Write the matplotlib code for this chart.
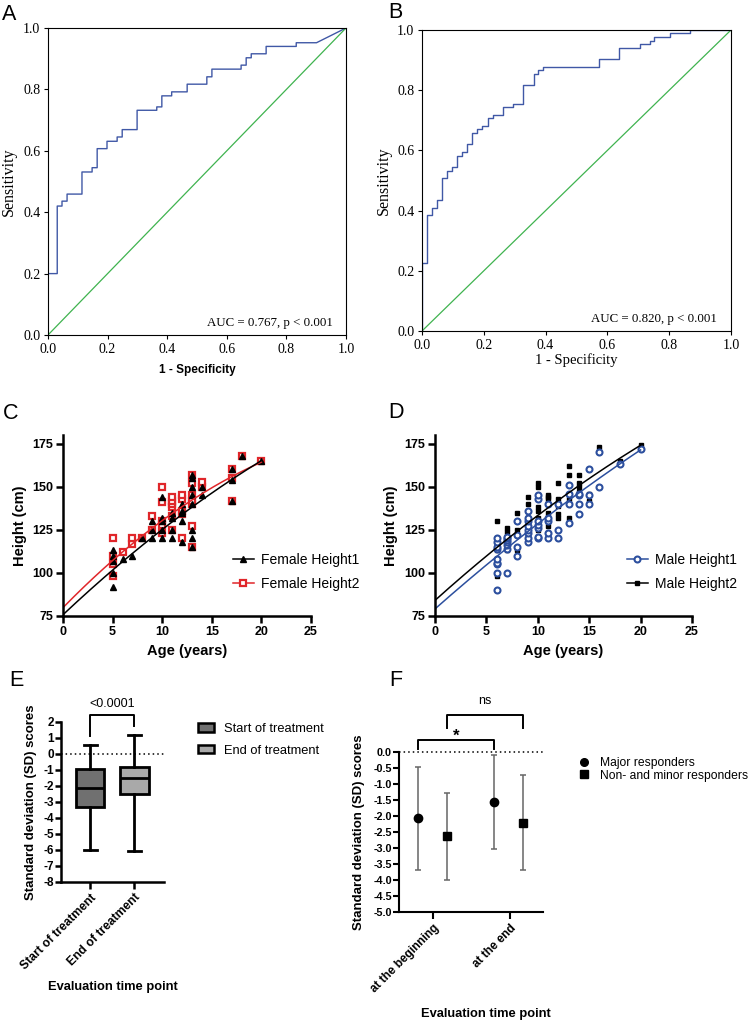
import numpy as np
import matplotlib
matplotlib.use("Agg")
import matplotlib.pyplot as plt
from matplotlib.patches import Patch
from matplotlib.lines import Line2D

SERIF = ["Liberation Serif", "DejaVu Serif"]
SANS = ["Liberation Sans", "DejaVu Sans"]
plt.rcParams["font.family"] = SANS
plt.rcParams["axes.unicode_minus"] = False

# ---------------- data ----------------
# Panel A: ROC operating points (false positive rate, sensitivity)
roc_a_fpr = [0.0, 0.031, 0.047, 0.064, 0.114, 0.148, 0.165, 0.198, 0.232, 0.249, 0.299, 0.365,
             0.382, 0.415, 0.467, 0.533, 0.550, 0.648, 0.665, 0.682, 0.732, 0.833, 0.901, 1.0]
roc_a_tpr = [0.200, 0.420, 0.436, 0.459, 0.531, 0.545, 0.607, 0.631, 0.645, 0.669, 0.732, 0.743,
             0.779, 0.792, 0.817, 0.841, 0.866, 0.879, 0.903, 0.916, 0.940, 0.952, 0.952, 1.0]
auc_a_text = "AUC = 0.767, p < 0.001"

# Panel B
roc_b_fpr = [0.0, 0.016, 0.032, 0.049, 0.065, 0.081, 0.097, 0.113, 0.130, 0.147, 0.163, 0.179,
             0.195, 0.214, 0.230, 0.262, 0.295, 0.328, 0.361, 0.377, 0.393, 0.573, 0.639, 0.704,
             0.737, 0.751, 0.802, 0.867, 1.0]
roc_b_tpr = [0.225, 0.384, 0.410, 0.435, 0.507, 0.533, 0.546, 0.582, 0.596, 0.620, 0.657, 0.670,
             0.681, 0.707, 0.718, 0.743, 0.755, 0.817, 0.854, 0.867, 0.878, 0.903, 0.939, 0.953,
             0.965, 0.978, 0.991, 1.0, 1.0]
auc_b_text = "AUC = 0.820, p < 0.001"
roc_ticks = [0.0, 0.2, 0.4, 0.6, 0.8, 1.0]

# Panel C: female heights by age
female_ages = [5, 6, 7, 8, 9, 10, 11, 12, 13, 14, 17, 18, 20]
female_height1 = [[92, 100, 107, 110, 113], [108], [110], [120], [120, 125, 130],
                  [120, 125, 130, 132, 144], [120, 125, 132, 135], [118, 130, 135, 136, 140],
                  [115, 120, 125, 140, 145, 150, 155, 157], [145, 150], [142, 154, 160], [168], [165]]
female_height2 = [[98, 105, 110, 120], [112], [117, 120], [120], [125, 133],
                  [123, 128, 130, 141, 150], [125, 133, 138, 140, 142, 144], [120, 134, 136, 143, 145],
                  [115, 127, 140, 142, 145, 152, 157], [150, 153], [142, 155, 160], [168], [165]]
# fitted growth curves
fit_ages = [0, 5, 10, 15, 20]
female_fit1 = [76.0, 101.0, 125.5, 146.5, 165.0]
female_fit2 = [80.0, 107.0, 130.0, 150.0, 164.0]

# Panel D: male heights by age
male_ages = [6, 7, 8, 9, 10, 11, 12, 13, 14, 15, 16, 18, 20]
male_height1 = [[90, 100, 105, 106, 108, 114, 115, 118, 120], [100, 114, 116, 118, 119, 120, 121],
                [110, 115, 122, 130], [118, 120, 123, 125, 127, 130, 132, 136],
                [120, 121, 126, 128, 130, 143, 145], [120, 123, 130, 132, 140], [120, 125, 140],
                [129, 140, 146, 151], [134, 140, 145, 146], [140, 145, 160], [150, 170], [163], [172]]
male_height2 = [[98, 113, 116, 120, 130], [113, 116, 119, 121, 124, 126], [113, 125, 135],
                [125, 129, 132, 140, 144], [125, 127, 132, 136, 138, 150, 152],
                [127, 131, 135, 140, 143, 144, 145], [132, 134, 139, 143, 152],
                [132, 143, 157, 162], [147, 150, 152, 157], [142, 146], [173], [165], [174]]
male_fit1 = [79.0, 105.0, 128.0, 151.0, 171.3]
male_fit2 = [84.0, 110.0, 133.0, 155.0, 174.0]
height_ticks = [75, 100, 125, 150, 175]
age_ticks = [0, 5, 10, 15, 20, 25]

# Panel E: box plot summary
e_labels = ["Start of treatment", "End of treatment"]
e_whislo = [-6.0, -6.05]
e_q1 = [-3.32, -2.49]
e_med = [-2.15, -1.47]
e_q3 = [-0.92, -0.84]
e_whishi = [0.56, 1.21]
e_pvalue = "<0.0001"
e_ticks = [-8, -7, -6, -5, -4, -3, -2, -1, 0, 1, 2]

# Panel F: mean with range
f_timepoints = ["at the beginning", "at the end"]
f_major_mean = [-2.07, -1.57]
f_major_upper = [-0.47, -0.10]
f_major_lower = [-3.69, -3.03]
f_minor_mean = [-2.64, -2.22]
f_minor_upper = [-1.28, -0.73]
f_minor_lower = [-4.00, -3.69]
f_ticks = [0.0, -0.5, -1.0, -1.5, -2.0, -2.5, -3.0, -3.5, -4.0, -4.5, -5.0]

# ---------------- figure ----------------
W, H = 750, 1023
fig = plt.figure(figsize=(W / 100, H / 100), dpi=100)


def px_axes(l, t, r, b):
    return fig.add_axes([l / W, 1 - b / H, (r - l) / W, (b - t) / H])


def roc_path(fx, ty):
    xs, ys = [0.0], [0.0]
    for x, y in zip(fx[:-1], ty[:-1]):
        xs += [x, x]
        ys += [ys[-1], y]
    xs.append(fx[-1])
    ys.append(ty[-1])
    return xs, ys


ROC_BLUE = "#4058a6"
ROC_GREEN = "#3fb34f"


def roc_panel(ax, fpr, tpr, auc_text, xlabel, xlabel_font, xlabel_size, xlabel_weight, xlab_y, ylab_x):
    xs, ys = roc_path(fpr, tpr)
    ax.plot(xs, ys, color=ROC_BLUE, lw=1.0)
    ax.plot([0, 1], [0, 1], color=ROC_GREEN, lw=0.9)
    ax.set_xlim(0, 1)
    ax.set_ylim(0, 1)
    lbls = ["%.1f" % t for t in roc_ticks]
    ax.set_xticks(roc_ticks, labels=lbls, fontfamily=SERIF, fontsize=10)
    ax.set_yticks(roc_ticks, labels=lbls, fontfamily=SERIF, fontsize=10)
    ax.tick_params(direction="out", length=3, width=0.8, pad=2.5)
    for s in ax.spines.values():
        s.set_linewidth(0.8)
    ax.text(0.955, 0.03, auc_text, transform=ax.transAxes, ha="right", va="baseline",
            fontfamily=SERIF, fontsize=9.3)
    ax.set_ylabel("Sensitivity", fontfamily=SERIF, fontsize=11.5)
    ax.yaxis.set_label_coords(ylab_x, 0.5)
    ax.set_xlabel(xlabel, fontfamily=xlabel_font, fontsize=xlabel_size, fontweight=xlabel_weight, va="top")
    ax.xaxis.set_label_coords(0.5, xlab_y)


axA = px_axes(48, 28, 346, 335)
roc_panel(axA, roc_a_fpr, roc_a_tpr, auc_a_text, "1 - Specificity", SANS, 8.5, "bold", -0.093, -0.105)
axB = px_axes(422, 30, 731, 331)
roc_panel(axB, roc_b_fpr, roc_b_tpr, auc_b_text, "1 - Specificity", SERIF, 10.5, "normal", -0.075, -0.097)


def flat(ages, groups):
    x, y = [], []
    for a, hs in zip(ages, groups):
        x += [a] * len(hs)
        y += hs
    return np.array(x, float), np.array(y, float)


def prism_axes(ax, lw=1.8):
    for s in ["top", "right"]:
        ax.spines[s].set_visible(False)
    for s in ["left", "bottom"]:
        ax.spines[s].set_linewidth(lw)
    ax.tick_params(direction="out", length=5, width=lw, pad=2)


def height_panel(ax, ages, h1, h2, fit1, fit2, c1, c2, m1, m2, kw1, kw2, lab1, lab2, leg_xy):
    x1, y1 = flat(ages, h1)
    x2, y2 = flat(ages, h2)
    xx = np.linspace(fit_ages[0], fit_ages[-1], 200)
    for xa, ya, c, m, kw in [(x2, y2, c2, m2, kw2), (x1, y1, c1, m1, kw1)]:
        ax.plot(xa, ya, ls="none", marker=m, color=c, clip_on=False, **kw)
    ax.plot(xx, np.polyval(np.polyfit(fit_ages, fit2, 2), xx), color=c2, lw=1.1)
    ax.plot(xx, np.polyval(np.polyfit(fit_ages, fit1, 2), xx), color=c1, lw=1.1)
    ax.set_xlim(0, 25)
    ax.set_ylim(75, 180)
    ax.set_xticks(age_ticks, labels=[str(t) for t in age_ticks], fontsize=9, fontweight="bold")
    ax.set_yticks(height_ticks, labels=[str(t) for t in height_ticks], fontsize=9, fontweight="bold")
    prism_axes(ax)
    ax.set_xlabel("Age (years)", fontsize=10.5, fontweight="bold", va="top")
    ax.xaxis.set_label_coords(0.5, -0.155)
    ax.set_ylabel("Height (cm)", fontsize=10.5, fontweight="bold")
    ax.yaxis.set_label_coords(-0.145, 0.5)
    handles = [Line2D([], [], color=c1, marker=m1, lw=1.1, **kw1),
               Line2D([], [], color=c2, marker=m2, lw=1.1, **kw2)]
    ax.legend(handles, [lab1, lab2], loc="upper left", bbox_to_anchor=(leg_xy[0] / W, 1 - leg_xy[1] / H),
              bbox_transform=fig.transFigure, frameon=False, fontsize=10, handlelength=1.5,
              handletextpad=0.5, labelspacing=0.7, borderpad=0, borderaxespad=0)


RED = "#e0262a"
BLUE = "#2c4f9e"
axC = px_axes(63, 435, 311, 616)
height_panel(axC, female_ages, female_height1, female_height2, female_fit1, female_fit2,
             "black", RED, "^", "s", dict(ms=5), dict(ms=5, mfc="white", mew=1.6),
             "Female Height1", "Female Height2", (233, 553))
axD = px_axes(435, 435, 692, 616)
height_panel(axD, male_ages, male_height1, male_height2, male_fit1, male_fit2,
             BLUE, "black", "o", "s", dict(ms=4.3, mfc="white", mew=1.5), dict(ms=3.2),
             "Male Height1", "Male Height2", (627, 553))

# ---------------- Panel E ----------------
axE = px_axes(61, 722, 164, 882)
E_COLORS = ["#707070", "#a9a9a9"]
stats = [dict(med=m, q1=a, q3=b, whislo=lo, whishi=hi, label=l)
         for m, a, b, lo, hi, l in zip(e_med, e_q1, e_q3, e_whislo, e_whishi, e_labels)]
bp = axE.bxp(stats, positions=[1, 2], widths=0.64, patch_artist=True, showfliers=False,
             boxprops=dict(lw=2.0, edgecolor="black"), whiskerprops=dict(lw=2.0),
             capprops=dict(lw=2.0), medianprops=dict(color="black", lw=2.0), capwidths=0.29)
for patch, c in zip(bp["boxes"], E_COLORS):
    patch.set_facecolor(c)
axE.axhline(0, color="black", ls=(0, (1, 2)), lw=1.1, zorder=0)
axE.set_xlim(0.338, 2.669)
axE.set_ylim(-8, 2)
axE.set_yticks(e_ticks, labels=[str(t) for t in e_ticks], fontsize=8.5, fontweight="bold")
axE.set_xticks([1, 2], labels=e_labels, fontsize=8.7, fontweight="bold", rotation=45,
               ha="right", rotation_mode="anchor")
prism_axes(axE, lw=1.8)
axE.tick_params(axis="y", length=4, pad=1)
axE.set_ylabel("Standard deviation (SD) scores", fontsize=9.5, fontweight="bold")
axE.yaxis.set_label_coords(-0.235, 0.5)
axE.set_xlabel("Evaluation time point", fontsize=9.3, fontweight="bold", va="top")
axE.xaxis.set_label_coords(0.505, -0.62)
axE.plot([1, 1, 2, 2], [1.12, 2.44, 2.44, 1.75], color="black", lw=1.4, clip_on=False)
axE.text(1.5, 2.75, e_pvalue, ha="center", va="bottom", fontsize=9)
e_handles = [Patch(facecolor=c, edgecolor="black", lw=1.8) for c in E_COLORS]
axE.legend(e_handles, e_labels, loc="upper left", bbox_to_anchor=(198 / W, 1 - 723 / H),
           bbox_transform=fig.transFigure, frameon=False, fontsize=9.3, handlelength=1.2,
           handleheight=0.6, handletextpad=0.8, labelspacing=0.75, borderpad=0, borderaxespad=0)

# ---------------- Panel F ----------------
axF = px_axes(399, 752, 543, 912)
pos = np.arange(len(f_timepoints))
off_major, off_minor = -0.2, 0.18
ERR_C = "#666666"
mm = np.array(f_major_mean)
axF.errorbar(pos + off_major, mm, yerr=[mm - np.array(f_major_lower), np.array(f_major_upper) - mm],
             fmt="o", color="black", ecolor=ERR_C, elinewidth=1.1, capsize=2.5, capthick=1.1, ms=6,
             clip_on=False)
mn = np.array(f_minor_mean)
axF.errorbar(pos + off_minor, mn, yerr=[mn - np.array(f_minor_lower), np.array(f_minor_upper) - mn],
             fmt="s", color="black", ecolor=ERR_C, elinewidth=1.1, capsize=2.5, capthick=1.1, ms=6,
             clip_on=False)
axF.axhline(0, color="black", ls=(0, (1, 2)), lw=1.1, zorder=0, clip_on=False)
axF.set_xlim(-0.448, 1.435)
axF.set_ylim(-5, 0)
axF.set_yticks(f_ticks, labels=["%.1f" % t for t in f_ticks], fontsize=7.8, fontweight="bold")
axF.set_xticks(pos, labels=f_timepoints, fontsize=8.5, fontweight="bold", rotation=45,
               ha="right", rotation_mode="anchor")
prism_axes(axF, lw=1.5)
axF.tick_params(axis="y", length=4, pad=1)
axF.set_ylabel("Standard deviation (SD) scores", fontsize=9.5, fontweight="bold")
axF.yaxis.set_label_coords(-0.236, 0.5)
axF.set_xlabel("Evaluation time point", fontsize=9.3, fontweight="bold", va="top")
axF.xaxis.set_label_coords(0.60, -0.60)
axF.plot([off_major, off_major, 1 + off_major, 1 + off_major], [0.09, 0.37, 0.37, 0.09],
         color="black", lw=1.4, clip_on=False)
axF.text(0.5 + off_major, 0.5, "*", ha="center", va="center", fontsize=12, fontweight="bold")
axF.plot([off_minor, off_minor, 1 + off_minor, 1 + off_minor], [0.75, 1.17, 1.17, 0.75],
         color="black", lw=1.4, clip_on=False)
axF.text(0.5 + off_minor, 1.4, "ns", ha="center", va="bottom", fontsize=9)
f_handles = [Line2D([], [], ls="none", marker="o", color="black", ms=5.5),
             Line2D([], [], ls="none", marker="s", color="black", ms=5.5)]
axF.legend(f_handles, ["Major responders", "Non- and minor responders"], loc="upper left",
           bbox_to_anchor=(578 / W, 1 - 757 / H), bbox_transform=fig.transFigure, frameon=False,
           fontsize=8.7, handlelength=1.0, handletextpad=0.85, labelspacing=0.05, borderpad=0,
           borderaxespad=0)

# panel letters
for letter, x, y in [("A", 2, 20), ("B", 388, 18), ("C", 3, 419), ("D", 388, 418),
                     ("E", 9, 686), ("F", 389, 686)]:
    fig.text(x / W, 1 - y / H, letter, fontsize=15.5, va="baseline", ha="left")

fig.savefig("out.png", dpi=100)
